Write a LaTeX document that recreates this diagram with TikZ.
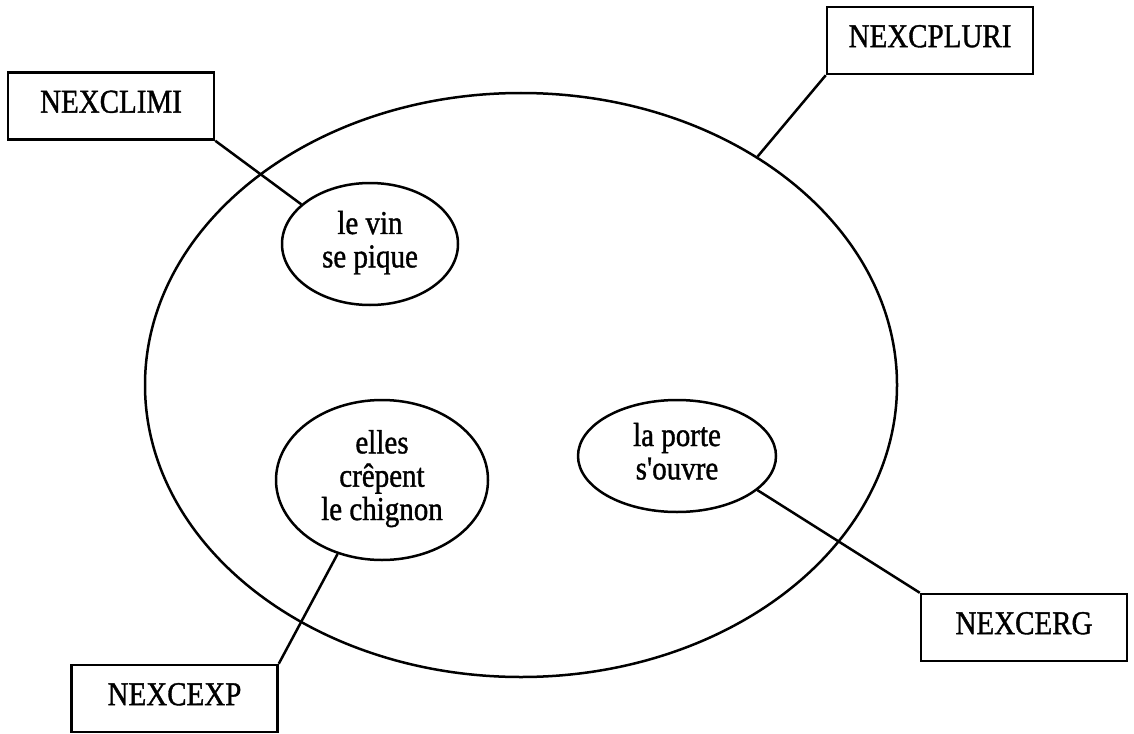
\documentclass[tikz,border=0pt]{standalone}
\usepackage{fontspec}
\setmainfont{Liberation Serif}[FakeBold=1.5]
\newfontface\heavyface{Liberation Serif}[FakeBold=1.2]
\usepackage{graphicx}
\usetikzlibrary{shapes.geometric}
\newcommand\vsc[1]{\scalebox{1}[1.15]{\begin{tabular}{@{}c@{}}#1\end{tabular}}}
\begin{document}
\begin{tikzpicture}[x=1pt,y=-1pt,line width=2.5pt,
  lab/.style={draw,rectangle,inner sep=0pt,minimum width=206pt,minimum height=67pt,font=\heavyface\fontsize{29}{29}\selectfont},
  oval/.style={draw,ellipse,inner sep=0pt,font=\heavyface\fontsize{29}{29}\selectfont}]
\useasboundingbox (0,0) rectangle (1134,733);
% main set
\node[oval,minimum width=752pt,minimum height=584pt] (big) at (521,385) {};
% inner ovals
\node[oval,minimum width=176pt,minimum height=122pt] (vin) at (370,244) {\vsc{le vin\\se pique}};
\node[oval,minimum width=212pt,minimum height=160pt] (chig) at (382,480) {\vsc{elles\\crêpent\\le chignon}};
\node[oval,minimum width=198pt,minimum height=112pt] (porte) at (677,456) {\vsc{la porte\\s\textquotesingle ouvre}};
% labels
\node[lab] (pluri) at (930,40.5) {\vsc{NEXCPLURI}};
\node[lab] (limi) at (111,106) {\vsc{NEXCLIMI}};
\node[lab] (erg) at (1024,627.5) {\vsc{NEXCERG}};
\node[lab] (exp) at (174.5,698.5) {\vsc{NEXCEXP}};
% connectors
\draw (pluri.south west) -- (big.44);
\draw (limi.south east) -- (vin.150);
\draw (chig.239) -- (exp.north east);
\draw (porte.337) -- (erg.north west);
\end{tikzpicture}
\end{document}
